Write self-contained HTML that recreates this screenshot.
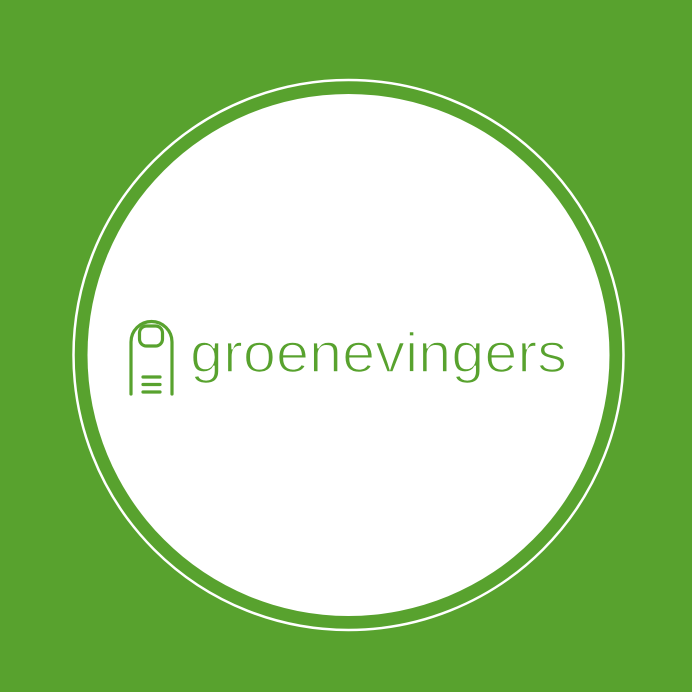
<!DOCTYPE html>
<html><head><meta charset="utf-8"><style>
html,body{margin:0;padding:0;background:#58a22e;}
svg{display:block}
</style></head><body>
<svg width="692" height="692" viewBox="0 0 692 692">
<rect width="692" height="692" fill="#58a22e"/>
<circle cx="348.5" cy="355" r="275" fill="none" stroke="#fff" stroke-width="2.5"/>
<circle cx="348.5" cy="355" r="261" fill="#fff"/>
<g fill="none" stroke="#58a22e" stroke-width="3.2" stroke-linecap="round">
<path d="M131 394 V342 A20.5 20.5 0 0 1 172 342 V394"/>
<rect x="139.5" y="326" width="23" height="20" rx="7"/>
<line x1="143" y1="377" x2="160" y2="377"/>
<line x1="143" y1="384.5" x2="160" y2="384.5"/>
<line x1="143" y1="392" x2="160" y2="392"/>
</g>
<text x="190" y="372" font-family="Liberation Sans, sans-serif" font-size="56" fill="#58a22e" textLength="377" lengthAdjust="spacingAndGlyphs" stroke="#fff" stroke-width="1.6">groenevingers</text>
</svg>
</body></html>
